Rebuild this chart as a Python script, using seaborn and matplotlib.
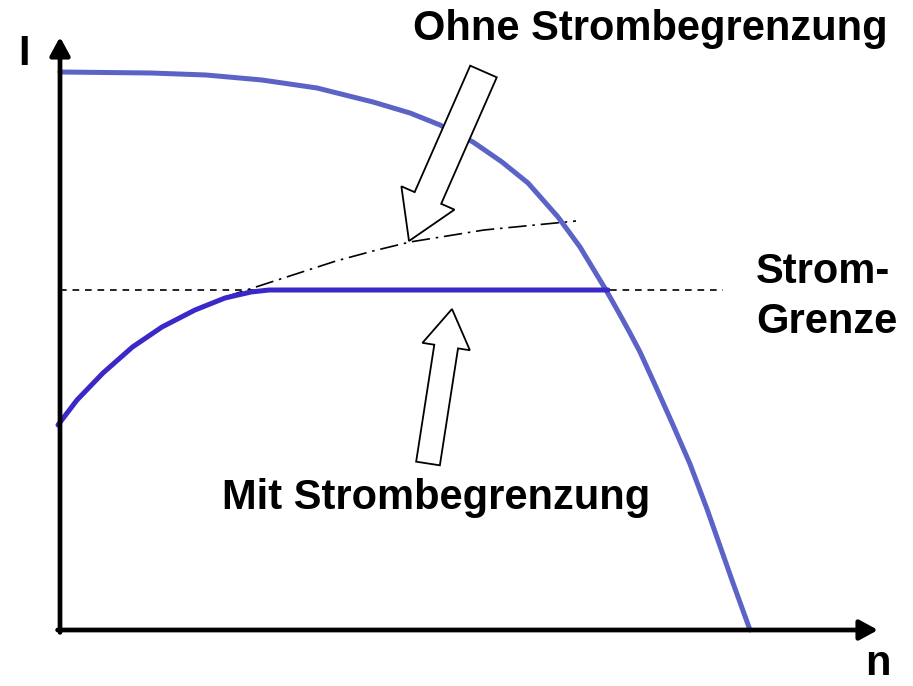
import numpy as np
import pandas as pd
import matplotlib
matplotlib.use("Agg")
import matplotlib.pyplot as plt
import matplotlib.patches as mpatches
import seaborn as sns

# ---- data (units: speed n, current I; origin at axis crossing) ----
# falling characteristic (without current limit)
n_fall = [0, 91, 146, 202, 257, 313, 350, 380, 413, 442, 468, 498, 520, 546, 559,
          570, 580, 596, 613, 630, 647, 660, 673, 690]
i_fall = [558, 557, 555, 550, 542, 528, 517, 505, 488, 468, 447, 413, 383, 340, 317,
          297, 278, 243, 205, 166, 121, 84, 47, 0]

# rising curve with current limit
n_lim = [-2, 17, 43, 72.5, 102, 135, 165, 191, 209, 548]
i_lim = [205, 230, 257, 283, 303, 320, 332, 338, 340, 340]

# continuation without limit (dash-dot)
n_free = [165, 202, 239, 276, 313, 350, 424, 516]
i_free = [333, 345, 357, 369, 379, 388, 400, 409]

# current limit level (dashed)
limit_n = [0, 663]
limit_i = [340, 340]

# hollow arrows: (tail_n, tail_i, tip_n, tip_i, shaft_w, head_w, head_len)
arrow_ohne = [423.5, 558.5, 349, 389, 29, 58, 47]
arrow_mit = [368, 166.5, 392, 321, 24, 48, 38]

labels = {
    "ohne": "Ohne Strombegrenzung",
    "mit": "Mit Strombegrenzung",
    "strom1": "Strom-",
    "strom2": "Grenze",
    "y": "I",
    "x": "n",
}

col_light = "#5b63c6"
col_dark = "#3a28c8"

sns.set_theme(style="white")
plt.rcParams["font.family"] = ["Liberation Sans", "DejaVu Sans"]

fig = plt.figure(figsize=(9.13, 6.86), dpi=100)
ax = fig.add_axes([0, 0, 1, 1])
ax.set_xlim(-60, 853)
ax.set_ylim(-56, 630)
ax.set_axis_off()

df_fall = pd.DataFrame({"n": n_fall, "I": i_fall})
df_lim = pd.DataFrame({"n": n_lim, "I": i_lim})
df_free = pd.DataFrame({"n": n_free, "I": i_free})
df_limit = pd.DataFrame({"n": limit_n, "I": limit_i})

sns.lineplot(data=df_limit, x="n", y="I", ax=ax, color="black", lw=1.2,
             linestyle=(0, (4, 3.5)), sort=False)
sns.lineplot(data=df_free, x="n", y="I", ax=ax, color="black", lw=1.2,
             linestyle=(0, (11, 3.5, 1.5, 3.5)), sort=False)
sns.lineplot(data=df_fall, x="n", y="I", ax=ax, color=col_light, lw=3.6, sort=False)
sns.lineplot(data=df_lim, x="n", y="I", ax=ax, color=col_dark, lw=3.6, sort=False)
for line in ax.get_lines():
    line.set_solid_joinstyle("round")

# axes with arrow heads
ax.annotate("", xy=(0, 593), xytext=(0, -2.4),
            arrowprops=dict(arrowstyle="-|>,head_length=0.55,head_width=0.3",
                            mutation_scale=20, lw=3.4, color="black",
                            shrinkA=0, shrinkB=0))
ax.annotate("", xy=(818, 0), xytext=(-2.4, 0),
            arrowprops=dict(arrowstyle="-|>,head_length=0.55,head_width=0.3",
                            mutation_scale=20, lw=3.4, color="black",
                            shrinkA=0, shrinkB=0))

for a in (arrow_ohne, arrow_mit):
    tn, ti, pn, pi, sw, hw, hl = a
    arr = mpatches.FancyArrow(tn, ti, pn - tn, pi - ti, width=sw, head_width=hw,
                              head_length=hl, length_includes_head=True,
                              fc="white", ec="black", lw=1.3, zorder=5)
    ax.add_patch(arr)

fs = 30
kw = dict(ha="center", va="baseline", fontsize=fs, fontweight="bold", color="black")
ax.text(590, 590, labels["ohne"], **kw)
ax.text(376, 121, labels["mit"], **kw)
ax.text(762.5, 347, labels["strom1"], **kw)
ax.text(766.5, 297, labels["strom2"], **kw)
ax.text(-36.5, 565, labels["y"], **kw)
ax.text(817.5, -45, labels["x"], **kw)

fig.savefig("out.png", dpi=100)
